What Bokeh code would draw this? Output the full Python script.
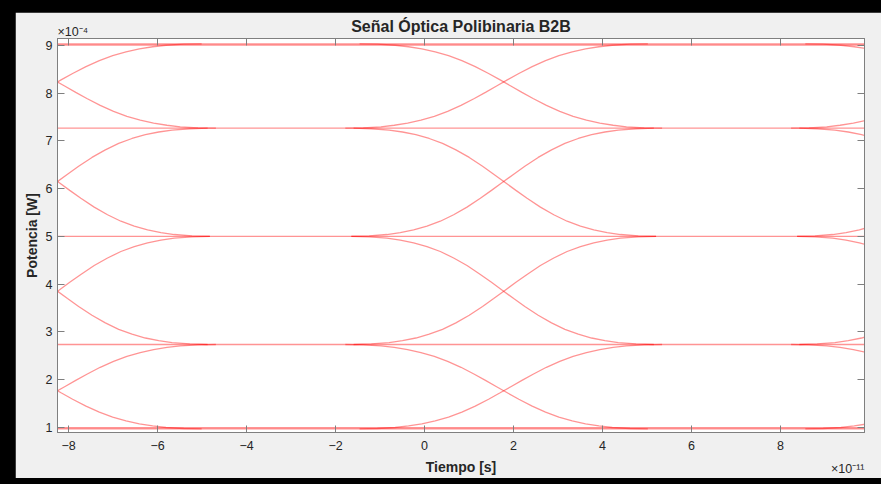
import numpy as np
from bokeh.plotting import figure
from bokeh.models import Range1d, FixedTicker, LinearAxis, Title, GlobalInlineStyleSheet
from bokeh.embed import file_html
from bokeh.resources import INLINE

# Units: time in 1e-11 s, power in 1e-4 W
title = "Señal Óptica Polibinaria B2B"
x_label = "Tiempo [s]"
y_label = "Potencia [W]"
x_ticks = [-8, -6, -4, -2, 0, 2, 4, 6, 8]
y_ticks = [1, 2, 3, 4, 5, 6, 7, 8, 9]
x_exponent = "×10⁻¹¹"
y_exponent = "×10⁻⁴"
x_start, x_end = -8.25, 9.89
y_start, y_end = 0.89, 9.146

# five polybinary power levels (bottom -> top)
levels = [0.965, 2.734, 5.0, 7.266, 9.035]
# horizontal traces (steady symbols); outer levels appear doubled
flat_lines = [0.965, 0.99, 2.734, 5.0, 7.266, 9.01, 9.035]
# symbol transition (crossing) instants
crossing_times = [-8.25, 1.78, 11.8]
# time lead of rising edge vs falling edge for each adjacent level pair
pair_lead = [-0.16, -0.025, 0.025, 0.16]
# measured edge shape: time from crossing -> fraction of the swing completed
edge_tau = [0.0, 0.25, 0.5, 0.8, 1.1, 1.4, 1.7, 2.0, 2.3, 2.6, 3.0, 3.4]
edge_frac = [0.5, 0.575, 0.648, 0.73, 0.80, 0.86, 0.905, 0.94, 0.965, 0.983, 0.995, 1.0]

tau_full = np.array([-t for t in reversed(edge_tau[1:])] + edge_tau)
frac_full = np.array([1 - f for f in reversed(edge_frac[1:])] + edge_frac)

xs, ys = [], []
for lv in flat_lines:
    xs.append([x_start, x_end])
    ys.append([lv, lv])
for tc in crossing_times:
    for i in range(len(levels) - 1):
        lo, hi = levels[i], levels[i + 1]
        d = pair_lead[i]
        xs.append(list(tc - d + tau_full))
        ys.append(list(lo + (hi - lo) * frac_full))
        xs.append(list(tc + d + tau_full))
        ys.append(list(hi - (hi - lo) * frac_full))

FONT = "Liberation Sans"
TXT = "#262626"
AX = "#7f7f7f"

W, H = 866, 466
BL, BR, BT, BB = 42, 17, 26, 46

p = figure(width=W, height=H,
           x_range=Range1d(x_start, x_end), y_range=Range1d(y_start, y_end),
           output_backend="svg", toolbar_location=None,
           min_border_left=BL, min_border_right=BR, min_border_top=BT, min_border_bottom=BB)
p.margin = (12, 0, 0, 15)
p.stylesheets = [GlobalInlineStyleSheet(css="html,body{background:#000;}")]

p.border_fill_color = "#f0f0f0"
p.background_fill_color = "white"
p.outline_line_color = AX
p.grid.visible = False
p.title.text = ""
p.title.visible = False

p.multi_line(xs, ys, line_color="#ff0000", line_alpha=0.42, line_width=1.3)

def style_axis(ax, labels=True):
    ax.axis_line_color = AX
    ax.major_tick_line_color = AX
    ax.major_tick_in = 7
    ax.major_tick_out = 0
    ax.minor_tick_line_color = None
    ax.major_label_text_font = FONT
    ax.axis_label_text_font = FONT
    ax.axis_label_text_font_style = "bold"
    ax.axis_label_text_font_size = "14px"
    ax.axis_label_text_color = TXT
    if labels:
        ax.major_label_text_font_size = "12.5px"
        ax.major_label_text_color = TXT
    else:
        ax.major_label_text_font_size = "0px"
        ax.major_label_text_color = None
        ax.major_label_standoff = 0

p.xaxis.ticker = FixedTicker(ticks=x_ticks)
p.yaxis.ticker = FixedTicker(ticks=y_ticks)
p.xaxis.axis_label = x_label
p.yaxis.axis_label = y_label
style_axis(p.xaxis[0])
style_axis(p.yaxis[0])
p.xaxis.major_label_standoff = 8
p.xaxis.axis_label_standoff = 6
p.yaxis.major_label_standoff = 5
p.yaxis.axis_label_standoff = 3

top_ax = LinearAxis(ticker=FixedTicker(ticks=x_ticks))
right_ax = LinearAxis(ticker=FixedTicker(ticks=y_ticks))
style_axis(top_ax, labels=False)
style_axis(right_ax, labels=False)
p.add_layout(top_ax, "above")
p.add_layout(right_ax, "right")

# MATLAB-style exponent above the y axis, then the title (overlapping rows)
p.add_layout(Title(text=y_exponent, align="left", text_font=FONT,
                   text_font_size="12.5px", text_font_style="normal",
                   text_color=TXT, standoff=0), "above")
p.add_layout(Title(text=title, align="center", text_font=FONT,
                   text_font_size="16px", text_font_style="bold",
                   text_color=TXT, standoff=-24), "above")
# MATLAB-style exponent at the right end of the x axis, same row as its label
p.add_layout(Title(text=x_exponent, align="right", vertical_align="top",
                   text_font=FONT, text_font_size="12.5px",
                   text_font_style="normal", text_color=TXT,
                   standoff=-31), "below")

open("out.html", "w").write(file_html(p, INLINE))
